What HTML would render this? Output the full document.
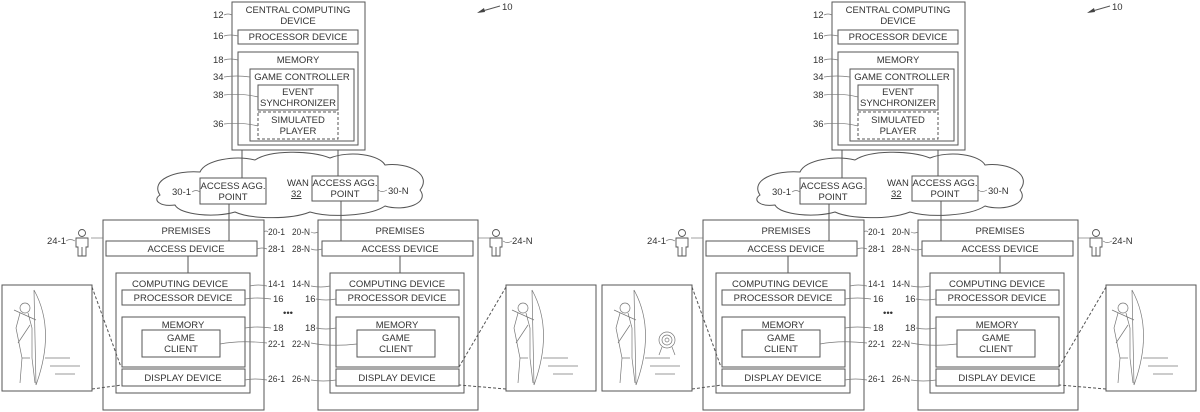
<!DOCTYPE html>
<html><head><meta charset="utf-8"><style>
html,body{margin:0;padding:0;background:#fff;}
svg{display:block;}
text{font-family:"Liberation Sans",sans-serif;fill:#333;font-size:9.5px;}
.m{font-size:9px;}
.b{fill:none;stroke:#555;stroke-width:1;}
.d{fill:none;stroke:#555;stroke-width:1;stroke-dasharray:3,2;}
.s{fill:none;stroke:#777;stroke-width:0.7;}
.c{text-anchor:middle;}
</style></head><body>
<svg width="1200" height="412" viewBox="0 0 1200 412" xmlns="http://www.w3.org/2000/svg">
<rect width="1200" height="412" fill="#fff"/>
<!-- LEFT COPY -->
<g>
<path class="b" d="M479,12 L500,6"/><path d="M477,13 l7,-5 l1,4 z" fill="#444"/><text x="502" y="10">10</text>
<rect class="b" x="232" y="2" width="133" height="148"/>
<text class="c" x="298" y="13">CENTRAL COMPUTING</text><text class="c" x="298" y="24">DEVICE</text>
<rect class="b" x="238" y="30" width="120" height="14"/><text class="c" x="298" y="40">PROCESSOR DEVICE</text>
<rect class="b" x="238" y="52" width="120" height="93"/><text class="c" x="298" y="63">MEMORY</text>
<rect class="b" x="250" y="69" width="104" height="72"/><text class="c" x="302" y="80">GAME CONTROLLER</text>
<rect class="b" x="258" y="85" width="80" height="25"/><text class="c" x="298" y="95">EVENT</text><text class="c" x="298" y="106">SYNCHRONIZER</text>
<rect class="d" x="258" y="112" width="80" height="27"/><text class="c" x="298" y="123">SIMULATED</text><text class="c" x="298" y="134">PLAYER</text>
<text x="213" y="18">12</text><path class="s" d="M224,15 q4,-2 8,0"/>
<text x="213" y="39">16</text><path class="s" d="M224,36 q6,-2 14,0"/>
<text x="213" y="63">18</text><path class="s" d="M224,60 q6,-2 14,0"/>
<text x="213" y="80">34</text><path class="s" d="M224,77 q12,-2 26,0"/>
<text x="213" y="98">38</text><path class="s" d="M224,95 q18,-2 34,2"/>
<text x="213" y="127">36</text><path class="s" d="M224,124 q18,-2 34,2"/>
<path class="b" d="M242,150 V178 M338,150 V176"/>
<path class="b" d="M160,195 C150,180 175,170 200,172 C205,160 235,155 255,160 C270,150 310,150 330,158 C350,150 380,155 385,165 C410,162 432,175 420,190 C430,203 405,212 385,206 C370,216 330,218 310,212 C290,220 250,219 235,212 C215,218 180,215 175,205 C160,207 152,200 160,195 Z"/>
<rect class="b" x="200" y="178" width="66" height="26" fill="#fff"/><text class="c" x="233" y="189">ACCESS AGG.</text><text class="c" x="233" y="200">POINT</text>
<rect class="b" x="312" y="176" width="66" height="25" fill="#fff"/><text class="c" x="345" y="186">ACCESS AGG.</text><text class="c" x="345" y="197">POINT</text>
<text x="287" y="186">WAN</text><text x="291" y="197" text-decoration="underline">32</text>
<text x="172" y="195">30-1</text><path class="s" d="M192,192 q4,-3 8,0"/>
<text x="388" y="194">30-N</text><path class="s" d="M378,190 q4,3 9,0"/>
<path class="b" d="M229,204 V241 M341,201 V241"/>
<rect class="b" x="103" y="220" width="161" height="190"/><text class="c" x="186" y="234">PREMISES</text>
<rect class="b" x="106" y="241" width="151" height="15"/><text class="c" x="186" y="252">ACCESS DEVICE</text>
<path class="b" d="M188,256 V273"/>
<rect class="b" x="116" y="273" width="134" height="120"/><text class="c" x="180" y="287">COMPUTING DEVICE</text>
<rect class="b" x="122" y="290" width="123" height="15"/><text class="c" x="183" y="301">PROCESSOR DEVICE</text>
<rect class="b" x="122" y="317" width="123" height="50"/><text class="c" x="183" y="328">MEMORY</text>
<rect class="b" x="142" y="330" width="78" height="27"/><text class="c" x="181" y="341">GAME</text><text class="c" x="181" y="352">CLIENT</text>
<rect class="b" x="122" y="369" width="123" height="17"/><text class="c" x="183" y="381">DISPLAY DEVICE</text>
<rect class="b" x="318" y="220" width="160" height="190"/><text class="c" x="400" y="234">PREMISES</text>
<rect class="b" x="322" y="241" width="151" height="15"/><text class="c" x="400" y="252">ACCESS DEVICE</text>
<path class="b" d="M400,256 V273"/>
<rect class="b" x="330" y="273" width="134" height="120"/><text class="c" x="397" y="287">COMPUTING DEVICE</text>
<rect class="b" x="336" y="290" width="123" height="15"/><text class="c" x="397" y="301">PROCESSOR DEVICE</text>
<rect class="b" x="336" y="317" width="123" height="50"/><text class="c" x="397" y="328">MEMORY</text>
<rect class="b" x="357" y="330" width="78" height="27"/><text class="c" x="396" y="341">GAME</text><text class="c" x="396" y="352">CLIENT</text>
<rect class="b" x="336" y="369" width="123" height="17"/><text class="c" x="397" y="381">DISPLAY DEVICE</text>
<text class="m" x="268" y="235" textLength="17" lengthAdjust="spacingAndGlyphs">20-1</text><text class="m" x="292" y="235" textLength="18" lengthAdjust="spacingAndGlyphs">20-N</text>
<text class="m" x="268" y="252" textLength="17" lengthAdjust="spacingAndGlyphs">28-1</text><text class="m" x="292" y="252" textLength="18" lengthAdjust="spacingAndGlyphs">28-N</text>
<text class="m" x="268" y="287" textLength="17" lengthAdjust="spacingAndGlyphs">14-1</text><text class="m" x="292" y="287" textLength="18" lengthAdjust="spacingAndGlyphs">14-N</text>
<text x="273" y="302">16</text><text x="305" y="302">16</text>
<text x="283" y="316">•••</text>
<text x="273" y="331">18</text><text x="305" y="331">18</text>
<text class="m" x="268" y="347" textLength="17" lengthAdjust="spacingAndGlyphs">22-1</text><text class="m" x="292" y="347" textLength="18" lengthAdjust="spacingAndGlyphs">22-N</text>
<text class="m" x="268" y="382" textLength="17" lengthAdjust="spacingAndGlyphs">26-1</text><text class="m" x="292" y="382" textLength="18" lengthAdjust="spacingAndGlyphs">26-N</text>
<path class="s" d="M220,344 q20,-4 47,-1 M311,343 q20,4 46,1 M245,380 q10,-2 22,0 M311,380 q12,2 25,0 M250,286 q8,-2 17,0 M311,286 q10,2 19,0 M264,232 q2,-2 4,0 M311,232 q3,2 7,0 M257,249 q5,-2 10,0 M311,249 q5,2 11,0 M245,299 q12,-2 26,0 M316,299 q10,2 20,0 M245,328 q12,-2 26,0 M316,328 q10,2 20,0"/>
<g class="s" style="stroke:#555;stroke-width:0.9">
<circle cx="82" cy="233" r="3.5"/><path d="M76,238 h12 v9 h-2 v9 h-8 v-9 h-2 z M82,247 v9"/>
<circle cx="496" cy="233" r="3.5"/><path d="M490,238 h12 v9 h-2 v9 h-8 v-9 h-2 z M496,247 v9"/>
</g>
<text x="47" y="244">24-1</text><path class="s" d="M66,241 q4,-3 9,0"/>
<path class="s" d="M91,238 h12"/>
<text x="512" y="244">24-N</text><path class="s" d="M503,241 q4,3 9,0"/>
<path class="s" d="M478,238 h12"/>
<rect class="b" x="2" y="285" width="90" height="106"/>
<rect class="b" x="506" y="285" width="90" height="106"/>
<path class="d" d="M92,287 L121,367 M92,389 L122,385 M506,287 L459,367 M506,389 L459,385"/>
<g class="s">
<path d="M34,290 Q56,330 36,385 M34,290 L36,385"/><circle cx="25" cy="308" r="5"/>
<path d="M20,313 l-4,15 l6,30 l-2,25 M28,313 l4,15 l0,30 l3,25 M14,310 l22,10 M30,325 l-12,18 M22,358 l8,0"/>
<path d="M45,358 h25 M50,366 h30 M55,374 h20"/>
<path d="M532,290 Q554,330 534,385 M532,290 L534,385"/><circle cx="523" cy="308" r="5"/>
<path d="M518,313 l-4,15 l6,30 l-2,25 M526,313 l4,15 l0,30 l3,25 M512,310 l22,10 M528,325 l-12,18 M520,358 l8,0"/>
<path d="M543,358 h25 M548,366 h30 M553,374 h20"/>
</g>
</g>
<!-- RIGHT COPY -->
<g transform="translate(600,0)">
<path class="b" d="M489,12 L510,6"/><path d="M487,13 l7,-5 l1,4 z" fill="#444"/><text x="512" y="10">10</text>
<rect class="b" x="232" y="2" width="133" height="148"/>
<text class="c" x="298" y="13">CENTRAL COMPUTING</text><text class="c" x="298" y="24">DEVICE</text>
<rect class="b" x="238" y="30" width="120" height="14"/><text class="c" x="298" y="40">PROCESSOR DEVICE</text>
<rect class="b" x="238" y="52" width="120" height="93"/><text class="c" x="298" y="63">MEMORY</text>
<rect class="b" x="250" y="69" width="104" height="72"/><text class="c" x="302" y="80">GAME CONTROLLER</text>
<rect class="b" x="258" y="85" width="80" height="25"/><text class="c" x="298" y="95">EVENT</text><text class="c" x="298" y="106">SYNCHRONIZER</text>
<rect class="d" x="258" y="112" width="80" height="27"/><text class="c" x="298" y="123">SIMULATED</text><text class="c" x="298" y="134">PLAYER</text>
<text x="213" y="18">12</text><path class="s" d="M224,15 q4,-2 8,0"/>
<text x="213" y="39">16</text><path class="s" d="M224,36 q6,-2 14,0"/>
<text x="213" y="63">18</text><path class="s" d="M224,60 q6,-2 14,0"/>
<text x="213" y="80">34</text><path class="s" d="M224,77 q12,-2 26,0"/>
<text x="213" y="98">38</text><path class="s" d="M224,95 q18,-2 34,2"/>
<text x="213" y="127">36</text><path class="s" d="M224,124 q18,-2 34,2"/>
<path class="b" d="M242,150 V178 M338,150 V176"/>
<path class="b" d="M160,195 C150,180 175,170 200,172 C205,160 235,155 255,160 C270,150 310,150 330,158 C350,150 380,155 385,165 C410,162 432,175 420,190 C430,203 405,212 385,206 C370,216 330,218 310,212 C290,220 250,219 235,212 C215,218 180,215 175,205 C160,207 152,200 160,195 Z"/>
<rect class="b" x="200" y="178" width="66" height="26" fill="#fff"/><text class="c" x="233" y="189">ACCESS AGG.</text><text class="c" x="233" y="200">POINT</text>
<rect class="b" x="312" y="176" width="66" height="25" fill="#fff"/><text class="c" x="345" y="186">ACCESS AGG.</text><text class="c" x="345" y="197">POINT</text>
<text x="287" y="186">WAN</text><text x="291" y="197" text-decoration="underline">32</text>
<text x="172" y="195">30-1</text><path class="s" d="M192,192 q4,-3 8,0"/>
<text x="388" y="194">30-N</text><path class="s" d="M378,190 q4,3 9,0"/>
<path class="b" d="M229,204 V241 M341,201 V241"/>
<rect class="b" x="103" y="220" width="161" height="190"/><text class="c" x="186" y="234">PREMISES</text>
<rect class="b" x="106" y="241" width="151" height="15"/><text class="c" x="186" y="252">ACCESS DEVICE</text>
<path class="b" d="M188,256 V273"/>
<rect class="b" x="116" y="273" width="134" height="120"/><text class="c" x="180" y="287">COMPUTING DEVICE</text>
<rect class="b" x="122" y="290" width="123" height="15"/><text class="c" x="183" y="301">PROCESSOR DEVICE</text>
<rect class="b" x="122" y="317" width="123" height="50"/><text class="c" x="183" y="328">MEMORY</text>
<rect class="b" x="142" y="330" width="78" height="27"/><text class="c" x="181" y="341">GAME</text><text class="c" x="181" y="352">CLIENT</text>
<rect class="b" x="122" y="369" width="123" height="17"/><text class="c" x="183" y="381">DISPLAY DEVICE</text>
<rect class="b" x="318" y="220" width="160" height="190"/><text class="c" x="400" y="234">PREMISES</text>
<rect class="b" x="322" y="241" width="151" height="15"/><text class="c" x="400" y="252">ACCESS DEVICE</text>
<path class="b" d="M400,256 V273"/>
<rect class="b" x="330" y="273" width="134" height="120"/><text class="c" x="397" y="287">COMPUTING DEVICE</text>
<rect class="b" x="336" y="290" width="123" height="15"/><text class="c" x="397" y="301">PROCESSOR DEVICE</text>
<rect class="b" x="336" y="317" width="123" height="50"/><text class="c" x="397" y="328">MEMORY</text>
<rect class="b" x="357" y="330" width="78" height="27"/><text class="c" x="396" y="341">GAME</text><text class="c" x="396" y="352">CLIENT</text>
<rect class="b" x="336" y="369" width="123" height="17"/><text class="c" x="397" y="381">DISPLAY DEVICE</text>
<text class="m" x="268" y="235" textLength="17" lengthAdjust="spacingAndGlyphs">20-1</text><text class="m" x="292" y="235" textLength="18" lengthAdjust="spacingAndGlyphs">20-N</text>
<text class="m" x="268" y="252" textLength="17" lengthAdjust="spacingAndGlyphs">28-1</text><text class="m" x="292" y="252" textLength="18" lengthAdjust="spacingAndGlyphs">28-N</text>
<text class="m" x="268" y="287" textLength="17" lengthAdjust="spacingAndGlyphs">14-1</text><text class="m" x="292" y="287" textLength="18" lengthAdjust="spacingAndGlyphs">14-N</text>
<text x="273" y="302">16</text><text x="305" y="302">16</text>
<text x="283" y="316">•••</text>
<text x="273" y="331">18</text><text x="305" y="331">18</text>
<text class="m" x="268" y="347" textLength="17" lengthAdjust="spacingAndGlyphs">22-1</text><text class="m" x="292" y="347" textLength="18" lengthAdjust="spacingAndGlyphs">22-N</text>
<text class="m" x="268" y="382" textLength="17" lengthAdjust="spacingAndGlyphs">26-1</text><text class="m" x="292" y="382" textLength="18" lengthAdjust="spacingAndGlyphs">26-N</text>
<path class="s" d="M220,344 q20,-4 47,-1 M311,343 q20,4 46,1 M245,380 q10,-2 22,0 M311,380 q12,2 25,0 M250,286 q8,-2 17,0 M311,286 q10,2 19,0 M264,232 q2,-2 4,0 M311,232 q3,2 7,0 M257,249 q5,-2 10,0 M311,249 q5,2 11,0 M245,299 q12,-2 26,0 M316,299 q10,2 20,0 M245,328 q12,-2 26,0 M316,328 q10,2 20,0"/>
<g class="s" style="stroke:#555;stroke-width:0.9">
<circle cx="82" cy="233" r="3.5"/><path d="M76,238 h12 v9 h-2 v9 h-8 v-9 h-2 z M82,247 v9"/>
<circle cx="496" cy="233" r="3.5"/><path d="M490,238 h12 v9 h-2 v9 h-8 v-9 h-2 z M496,247 v9"/>
</g>
<text x="47" y="244">24-1</text><path class="s" d="M66,241 q4,-3 9,0"/>
<path class="s" d="M91,238 h12"/>
<text x="512" y="244">24-N</text><path class="s" d="M503,241 q4,3 9,0"/>
<path class="s" d="M478,238 h12"/>
<rect class="b" x="2" y="285" width="90" height="106"/>
<rect class="b" x="506" y="285" width="90" height="106"/>
<path class="d" d="M92,287 L121,367 M92,389 L122,385 M506,287 L459,367 M506,389 L459,385"/>
<g class="s">
<path d="M34,290 Q56,330 36,385 M34,290 L36,385"/><circle cx="25" cy="308" r="5"/>
<path d="M20,313 l-4,15 l6,30 l-2,25 M28,313 l4,15 l0,30 l3,25 M14,310 l22,10 M30,325 l-12,18 M22,358 l8,0"/>
<path d="M45,358 h25 M50,366 h30 M55,374 h20"/>
<circle cx="67" cy="340" r="8"/><circle cx="67" cy="340" r="5"/><circle cx="67" cy="340" r="2"/><path d="M62,347 l-3,8 M72,347 l3,8"/>
<path d="M532,290 Q554,330 534,385 M532,290 L534,385"/><circle cx="523" cy="308" r="5"/>
<path d="M518,313 l-4,15 l6,30 l-2,25 M526,313 l4,15 l0,30 l3,25 M512,310 l22,10 M528,325 l-12,18 M520,358 l8,0"/>
<path d="M543,358 h25 M548,366 h30 M553,374 h20"/>
</g>
</g>
</svg>
</body></html>
